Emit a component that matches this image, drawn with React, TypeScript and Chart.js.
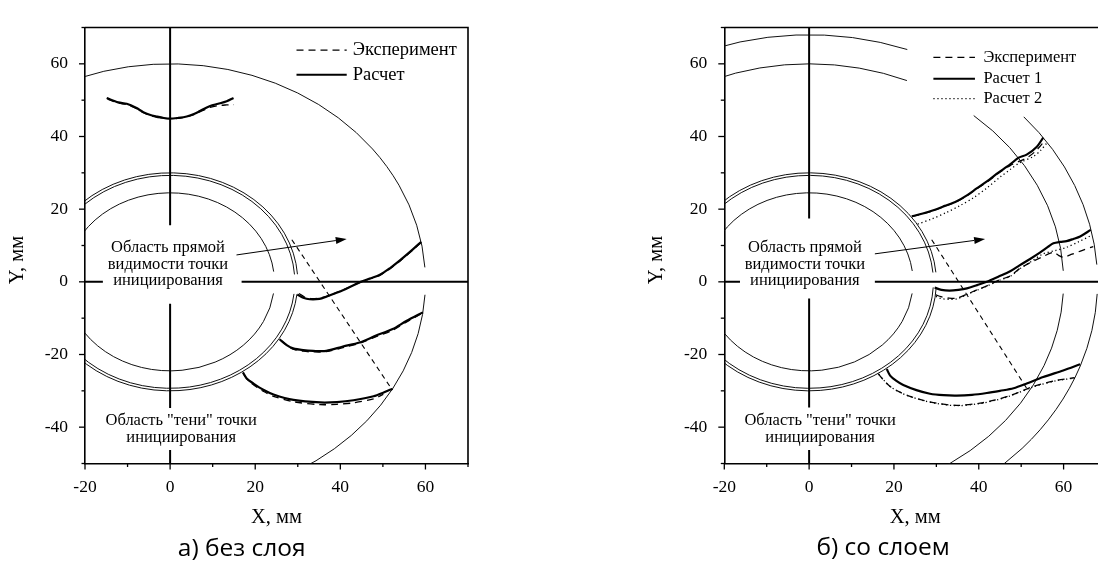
import React, { useEffect, useRef } from "react";
import { Chart, registerables } from "chart.js";

Chart.register(...registerables);

type Pt = { x: number; y: number };
type Kind = "exp" | "calc" | "calc2";

const P = (pairs: number[][]): Pt[] => pairs.map(([x, y]) => ({ x, y }));

// ---------- axes / labels ----------
const X_MIN = -20, X_MAX = 70, Y_MIN = -50, Y_MAX = 70;
const TICK_STEP = 10;
const X_LABELED_TICKS = [-20, 0, 20, 40, 60];
const Y_LABELED_TICKS = [-40, -20, 0, 20, 40, 60];
const AXIS_TITLE_X = "X, мм";
const AXIS_TITLE_Y = "Y, мм";
const LEGEND_LEFT = ["Эксперимент", "Расчет"];
const LEGEND_RIGHT = ["Эксперимент", "Расчет 1", "Расчет 2"];
const NOTE_VISIBLE = ["Область прямой", "видимости точки", "инициирования"];
const NOTE_SHADOW = ["Область \"тени\" точки", "инициирования"];
const CAPTIONS = ["а) без слоя", "б) со слоем"];

// ---------- left panel (без слоя) ----------
const L_RADII = [24.5, 29.3, 30.0, 60];
const L_SPANS: [number, number][][] = [[[6.6, 352.5]], [[4.0, 353.5]], [[4.0, 353.5]], [[3.8, 356.6]]];

const L_CALC_A = P([[-14.9, 50.6], [-12.2, 49.4], [-10.2, 49.0], [-8.0, 47.9], [-6.3, 46.7], [-4.8, 46.0], [-3.1, 45.5], [-1.5, 45.1], [0, 44.9], [1.8, 45.1], [3.9, 45.5], [5.6, 46.2], [7.0, 47.0], [9.4, 48.4], [11.3, 49.0], [13.3, 49.7], [14.9, 50.6]]);
const L_EXP_A = P([[-14.7, 50.3], [-12.2, 49.2], [-10.2, 48.8], [-8.0, 47.7], [-6.3, 46.6], [-4.8, 45.8], [-3.1, 45.3], [-1.5, 45.0], [0, 44.9], [1.8, 45.0], [3.9, 45.4], [5.6, 46.0], [7.0, 46.8], [9.4, 48.0], [11.3, 48.5], [13.3, 48.7], [15.0, 48.8]]);
const L_CALC_B = P([[29.9, -3.5], [31.3, -4.4], [32.8, -4.8], [35.1, -4.7], [36.7, -4.1], [38.7, -3.2], [40.6, -2.3], [42.6, -1.2], [44.5, -0.15], [46.9, 0.9], [49.3, 1.95], [51.7, 3.8], [54.0, 5.9], [57.1, 9.0], [59.0, 11.0]]);
const L_EXP_B = P([[30.3, -3.2], [31.5, -4.1], [33.0, -4.6], [35.1, -4.5], [36.7, -4.0], [38.7, -3.1], [40.6, -2.2], [42.6, -1.2], [44.5, -0.2], [46.9, 0.8], [49.3, 1.8], [51.7, 3.6], [54.0, 5.7], [57.1, 8.8], [59.0, 10.9]]);
const L_CALC_C = P([[25.7, -15.8], [27.4, -17.4], [28.9, -18.3], [31.3, -18.8], [33.6, -19.0], [36.7, -19.0], [40.6, -17.8], [44.5, -16.7], [48.4, -14.8], [52.3, -13.0], [55.5, -10.8], [59.4, -8.4]]);
const L_EXP_C = P([[26.0, -16.1], [27.6, -17.6], [29.1, -18.6], [31.3, -19.1], [33.6, -19.3], [36.7, -19.2], [40.6, -18.1], [44.5, -16.9], [48.4, -15.1], [52.3, -13.3], [55.5, -11.1], [59.3, -8.6]]);
const L_CALC_D = P([[17.1, -24.9], [18.0, -26.6], [19.6, -28.0], [21.9, -29.7], [24.3, -31.0], [29.0, -32.5], [35.3, -33.2], [39.2, -33.1], [43.1, -32.6], [47.8, -31.5], [50.3, -30.4], [52.3, -29.4]]);
const L_EXP_D = P([[17.3, -25.5], [18.3, -27.1], [19.8, -28.5], [22.0, -30.2], [24.3, -31.5], [29.0, -33.0], [35.3, -33.8], [39.2, -33.7], [43.1, -33.3], [47.8, -32.2], [50.1, -31.0]]);
const L_SIGHT = P([[28.6, 11.6], [52.0, -29.4]]);
const L_ARROW = P([[15.6, 7.4], [41.5, 11.8]]);
const L_VLINES = [P([[0, 70], [0, 15.6]]), P([[0, -6.0], [0, -34.7]]), P([[0, -46.3], [0, -50]])];
const L_HLINES = [P([[-20, 0], [-15.8, 0]]), P([[16.8, 0], [70, 0]])];

// ---------- right panel (со слоем) ----------
const R_RADII = [24.5, 29.3, 30.0, 60, 68];
const R_SPANS: [number, number][][] = [[[7.0, 352.5]], [[5.0, 357.0]], [[5.0, 357.0]], [[2.9, 49.7], [67.4, 356.9]], [[4.0, 41.9], [70.1, 357.2]]];

const R_CALC1_A = P([[24.2, 18.0], [26.8, 18.8], [29.3, 19.7], [32.0, 20.9], [34.8, 22.2], [37.2, 23.8], [39.5, 25.7], [42.0, 27.7], [44.2, 29.7], [47.4, 32.3], [49.3, 34.1], [51.3, 35.0], [53.7, 37.2], [55.2, 39.7]]);
const R_EXP_A = P([[24.3, 18.0], [26.8, 18.7], [29.3, 19.6], [32.0, 20.8], [34.8, 22.1], [37.2, 23.7], [39.5, 25.6], [42.0, 27.5], [44.2, 29.5], [47.4, 32.0], [49.6, 33.2], [51.6, 34.3], [53.6, 36.2], [55.6, 38.9]]);
const R_CALC2_A = P([[25.6, 15.9], [28.9, 17.3], [32.4, 19.1], [35.6, 21.0], [38.7, 23.1], [42.0, 25.9], [45.0, 28.8], [47.5, 31.0], [49.7, 32.8], [52.9, 34.5], [54.6, 36.2], [56.1, 38.3]]);
const R_CALC1_B = P([[29.6, -1.6], [31.2, -2.2], [33.1, -2.4], [35.2, -2.2], [37.2, -1.8], [39.6, -0.9], [41.9, 0.0], [44.6, 1.4], [47.4, 2.9], [49.7, 4.6], [52.1, 6.3], [54.5, 8.1], [56.3, 9.6], [57.6, 10.6], [59.2, 11.0], [60.7, 11.2], [62.3, 11.8], [63.9, 12.5], [66.4, 14.3]]);
const R_EXP_B = P([[29.9, -3.6], [31.1, -4.1], [33.0, -4.5], [34.8, -4.5], [37.2, -3.4], [39.6, -2.2], [41.9, -1.1], [45.0, 0.6], [47.4, 1.6], [49.7, 3.7], [52.0, 5.2], [54.5, 6.6], [57.6, 8.1], [58.8, 7.3], [59.9, 6.8], [62.0, 7.6], [64.3, 8.6], [67.0, 9.7]]);
const R_CALC2_B = P([[29.9, -4.0], [31.1, -4.6], [33.0, -4.8], [34.8, -4.7], [37.2, -3.5], [39.6, -2.3], [41.9, -1.2], [45.0, 0.5], [47.4, 1.5], [49.7, 3.6], [52.0, 5.3], [55.2, 7.7], [58.0, 8.6], [60.7, 9.5], [63.5, 11.0], [66.6, 12.8]]);
const R_CALC1_C = P([[18.3, -24.0], [19.1, -25.8], [20.5, -27.2], [22.2, -28.4], [25.3, -29.8], [28.5, -30.8], [31.7, -31.2], [34.8, -31.3], [38.4, -31.1], [41.9, -30.6], [45.0, -30.0], [48.2, -29.3], [51.3, -28.0], [55.2, -26.2], [59.9, -24.4], [63.9, -22.7]]);
const R_EXP_C = P([[16.3, -25.3], [17.6, -27.1], [19.1, -28.8], [21.3, -30.3], [23.8, -31.5], [26.9, -32.6], [30.1, -33.4], [34.8, -34.0], [40.3, -33.4], [43.9, -32.5], [47.4, -31.3], [52.9, -28.8], [58.4, -27.1], [62.6, -26.4]]);
const R_CALC2_C = P([[16.4, -25.4], [17.7, -27.2], [19.2, -28.9], [21.4, -30.4], [23.9, -31.6], [27.0, -32.7], [30.2, -33.5], [34.8, -34.1], [40.3, -33.5], [43.9, -32.6], [47.4, -31.4], [52.9, -28.9], [58.4, -27.2], [62.6, -26.5]]);
const R_SIGHT = P([[28.9, 11.6], [51.3, -29.3]]);
const R_ARROW = P([[15.5, 7.7], [41.5, 11.8]]);
const R_VLINES = [P([[0, 70], [0, 17.4]]), P([[0, -4.6], [0, -34.6]]), P([[0, -46.3], [0, -50]])];
const R_HLINES = [P([[-20, 0], [-16.3, 0]]), P([[15.5, 0], [70, 0]])];

// ---------- styles ----------
const SERIF = '"Liberation Serif", "Times New Roman", serif';
const INK = "#000";
const STYLES: Record<Kind, { dash: number[]; width: number }> = {
  exp: { dash: [7, 5], width: 1.3 },
  calc: { dash: [], width: 2.2 },
  calc2: { dash: [1.2, 2.8], width: 1.3 },
};

interface Series { label: string; kind: Kind; data: Pt[] }
interface Panel {
  radii: number[];
  spans: [number, number][][];
  vlines: Pt[][];
  hlines: Pt[][];
  series: Series[];
  sight: Pt[];
  arrow: Pt[];
  legendLabels: string[];
  legendKinds: Kind[];
  legendPos: { x0: number; x1: number; tx: number; ys: number[] };
  legendFont: number;
  noteVisiblePos: { x: number; ys: number[] };
  noteShadowPos: { x: number; ys: number[] };
  yAxisWidth: number;
  padRight: number;
}

const LEFT_PANEL: Panel = {
  radii: L_RADII,
  spans: L_SPANS,
  vlines: L_VLINES,
  hlines: L_HLINES,
  series: [
    { label: LEGEND_LEFT[0], kind: "exp", data: L_EXP_A },
    { label: LEGEND_LEFT[0], kind: "exp", data: L_EXP_B },
    { label: LEGEND_LEFT[0], kind: "exp", data: L_EXP_C },
    { label: LEGEND_LEFT[0], kind: "exp", data: L_EXP_D },
    { label: LEGEND_LEFT[1], kind: "calc", data: L_CALC_A },
    { label: LEGEND_LEFT[1], kind: "calc", data: L_CALC_B },
    { label: LEGEND_LEFT[1], kind: "calc", data: L_CALC_C },
    { label: LEGEND_LEFT[1], kind: "calc", data: L_CALC_D },
  ],
  sight: L_SIGHT,
  arrow: L_ARROW,
  legendLabels: LEGEND_LEFT,
  legendKinds: ["exp", "calc"],
  legendPos: { x0: 29.7, x1: 41.5, tx: 42.9, ys: [63.8, 57.0] },
  legendFont: 18.5,
  noteVisiblePos: { x: -0.5, ys: [9.45, 4.8, 0.2] },
  noteShadowPos: { x: 2.6, ys: [-38.3, -42.9] },
  yAxisWidth: 85,
  padRight: 81,
};

const RIGHT_PANEL: Panel = {
  radii: R_RADII,
  spans: R_SPANS,
  vlines: R_VLINES,
  hlines: R_HLINES,
  series: [
    { label: LEGEND_RIGHT[2], kind: "calc2", data: R_CALC2_A },
    { label: LEGEND_RIGHT[2], kind: "calc2", data: R_CALC2_B },
    { label: LEGEND_RIGHT[2], kind: "calc2", data: R_CALC2_C },
    { label: LEGEND_RIGHT[0], kind: "exp", data: R_EXP_A },
    { label: LEGEND_RIGHT[0], kind: "exp", data: R_EXP_B },
    { label: LEGEND_RIGHT[0], kind: "exp", data: R_EXP_C },
    { label: LEGEND_RIGHT[1], kind: "calc", data: R_CALC1_A },
    { label: LEGEND_RIGHT[1], kind: "calc", data: R_CALC1_B },
    { label: LEGEND_RIGHT[1], kind: "calc", data: R_CALC1_C },
  ],
  sight: R_SIGHT,
  arrow: R_ARROW,
  legendLabels: LEGEND_RIGHT,
  legendKinds: ["exp", "calc", "calc2"],
  legendPos: { x0: 29.3, x1: 39.1, tx: 41.1, ys: [61.8, 55.9, 50.4] },
  legendFont: 16.5,
  noteVisiblePos: { x: -1.0, ys: [9.45, 4.8, 0.2] },
  noteShadowPos: { x: 2.6, ys: [-38.3, -42.9] },
  yAxisWidth: 85.3,
  padRight: 20,
};

const CANVAS_H = 530;
const X_AXIS_H = 66.5;

function makePlugin(panel: Panel) {
  return {
    id: "drawing",
    beforeDatasetsDraw(chart: any) {
      const { ctx, chartArea: ca, scales } = chart;
      const xs = scales.x, ys = scales.y;
      const cx = xs.getPixelForValue(0), cy = ys.getPixelForValue(0);
      ctx.save();
      ctx.beginPath();
      ctx.rect(ca.left, ca.top, ca.right - ca.left, ca.bottom - ca.top);
      ctx.clip();
      ctx.strokeStyle = "#111";
      ctx.lineWidth = 1;
      panel.radii.forEach((r, i) => {
        const rx = Math.abs(xs.getPixelForValue(r) - cx);
        const ry = Math.abs(ys.getPixelForValue(r) - cy);
        panel.spans[i].forEach(([a, b]) => {
          ctx.beginPath();
          ctx.ellipse(cx, cy, rx, ry, 0, (-a * Math.PI) / 180, (-b * Math.PI) / 180, true);
          ctx.stroke();
        });
      });
      ctx.restore();
    },
    afterDatasetsDraw(chart: any) {
      const { ctx, scales } = chart;
      const xs = scales.x, ys = scales.y;
      const px = (v: number) => xs.getPixelForValue(v);
      const py = (v: number) => ys.getPixelForValue(v);
      ctx.save();
      // arrow
      const [a, b] = panel.arrow;
      const x1 = px(a.x), y1 = py(a.y), x2 = px(b.x), y2 = py(b.y);
      const ang = Math.atan2(y2 - y1, x2 - x1);
      const hl = 11, hw = 3.5;
      ctx.strokeStyle = INK;
      ctx.fillStyle = INK;
      ctx.lineWidth = 1;
      ctx.setLineDash([]);
      ctx.beginPath();
      ctx.moveTo(x1, y1);
      ctx.lineTo(x2 - hl * Math.cos(ang), y2 - hl * Math.sin(ang));
      ctx.stroke();
      ctx.beginPath();
      ctx.moveTo(x2, y2);
      ctx.lineTo(x2 - hl * Math.cos(ang) + hw * Math.sin(ang), y2 - hl * Math.sin(ang) - hw * Math.cos(ang));
      ctx.lineTo(x2 - hl * Math.cos(ang) - hw * Math.sin(ang), y2 - hl * Math.sin(ang) + hw * Math.cos(ang));
      ctx.closePath();
      ctx.fill();
      // notes
      ctx.font = `16.5px ${SERIF}`;
      ctx.textAlign = "center";
      ctx.textBaseline = "middle";
      NOTE_VISIBLE.forEach((t, i) => ctx.fillText(t, px(panel.noteVisiblePos.x), py(panel.noteVisiblePos.ys[i])));
      NOTE_SHADOW.forEach((t, i) => ctx.fillText(t, px(panel.noteShadowPos.x), py(panel.noteShadowPos.ys[i])));
      // legend
      const lp = panel.legendPos;
      ctx.font = `${panel.legendFont}px ${SERIF}`;
      ctx.textAlign = "left";
      panel.legendLabels.forEach((label, i) => {
        const st = STYLES[panel.legendKinds[i]];
        const yy = py(lp.ys[i]);
        ctx.setLineDash(st.dash);
        ctx.lineWidth = st.width;
        ctx.beginPath();
        ctx.moveTo(px(lp.x0), yy);
        ctx.lineTo(px(lp.x1), yy);
        ctx.stroke();
        ctx.setLineDash([]);
        ctx.fillText(label, px(lp.tx), yy);
      });
      ctx.restore();
    },
    afterDraw(chart: any) {
      const { ctx, chartArea: ca, scales } = chart;
      const xs = scales.x, ys = scales.y;
      ctx.save();
      ctx.strokeStyle = INK;
      ctx.lineWidth = 1.3;
      ctx.setLineDash([]);
      xs.ticks.forEach((t: any) => {
        const p = xs.getPixelForValue(t.value);
        const len = X_LABELED_TICKS.includes(t.value) ? 6 : 3.5;
        ctx.beginPath();
        ctx.moveTo(p, ca.bottom);
        ctx.lineTo(p, ca.bottom + len);
        ctx.stroke();
      });
      ys.ticks.forEach((t: any) => {
        const p = ys.getPixelForValue(t.value);
        const len = Y_LABELED_TICKS.includes(t.value) ? 6 : 3.5;
        ctx.beginPath();
        ctx.moveTo(ca.left, p);
        ctx.lineTo(ca.left - len, p);
        ctx.stroke();
      });
      // frame top & right
      ctx.lineWidth = 1.6;
      ctx.beginPath();
      ctx.moveTo(ca.left, ca.top);
      ctx.lineTo(ca.right, ca.top);
      ctx.lineTo(ca.right, ca.bottom);
      ctx.stroke();
      // y title
      ctx.fillStyle = INK;
      ctx.font = `20.5px ${SERIF}`;
      ctx.textAlign = "center";
      ctx.textBaseline = "middle";
      ctx.translate(18, 260);
      ctx.rotate(-Math.PI / 2);
      ctx.fillText(AXIS_TITLE_Y, 0, 0);
      ctx.restore();
    },
  };
}

function buildConfig(panel: Panel): any {
  const base = { showLine: true, pointRadius: 0, pointHoverRadius: 0, fill: false, borderColor: INK };
  const datasets: any[] = [
    ...panel.vlines.map((d) => ({ ...base, label: "axis", data: d, borderWidth: 2 })),
    ...panel.hlines.map((d) => ({ ...base, label: "axis", data: d, borderWidth: 2 })),
    { ...base, label: "sight", data: panel.sight, borderWidth: 1.1, borderDash: [5, 4] },
    ...panel.series.map((s) => ({
      ...base,
      label: s.label,
      data: s.data,
      borderWidth: STYLES[s.kind].width,
      borderDash: STYLES[s.kind].dash,
      tension: 0.3,
    })),
  ];
  return {
    type: "scatter",
    data: { datasets },
    options: {
      animation: false,
      responsive: false,
      devicePixelRatio: 1,
      events: [],
      layout: { padding: { left: 0, top: 9, right: panel.padRight, bottom: 0 }, autoPadding: false },
      plugins: { legend: { display: false }, tooltip: { enabled: false } },
      scales: {
        x: {
          type: "linear",
          min: X_MIN,
          max: X_MAX,
          ticks: {
            stepSize: TICK_STEP,
            autoSkip: false,
            maxRotation: 0,
            padding: 13,
            color: INK,
            font: { family: SERIF, size: 17.5 },
            callback: (v: any) => (X_LABELED_TICKS.includes(Number(v)) ? String(v) : ""),
          },
          grid: { display: false, drawTicks: false },
          border: { display: true, color: INK, width: 1.6 },
          title: { display: true, text: AXIS_TITLE_X, color: INK, font: { family: SERIF, size: 20.5 }, padding: { top: 0, bottom: 0 } },
          afterFit: (s: any) => {
            s.height = X_AXIS_H;
          },
        },
        y: {
          type: "linear",
          min: Y_MIN,
          max: Y_MAX,
          ticks: {
            stepSize: TICK_STEP,
            autoSkip: false,
            padding: 17,
            color: INK,
            font: { family: SERIF, size: 17.5 },
            callback: (v: any) => (Y_LABELED_TICKS.includes(Number(v)) ? String(v) : ""),
          },
          grid: { display: false, drawTicks: false },
          border: { display: true, color: INK, width: 1.6 },
          afterFit: (s: any) => {
            s.width = panel.yAxisWidth;
          },
        },
      },
    },
    plugins: [makePlugin(panel)],
  };
}

function PanelChart({ panel, left, width }: { panel: Panel; left: number; width: number }) {
  const ref = useRef<HTMLCanvasElement | null>(null);
  useEffect(() => {
    if (!ref.current) return;
    const chart = new Chart(ref.current, buildConfig(panel));
    return () => chart.destroy();
  }, [panel]);
  return (
    <canvas
      ref={ref}
      width={width}
      height={CANVAS_H}
      style={{ position: "absolute", left, top: 0, width, height: CANVAS_H, display: "block" }}
    />
  );
}

const captionStyle = (cx: number, cy: number): React.CSSProperties => ({
  position: "absolute",
  left: cx,
  top: cy,
  transform: "translate(-50%, -50%)",
  fontFamily: '"Open Sans", "Noto Sans", sans-serif',
  fontSize: 24.5,
  lineHeight: 1,
  color: "#000",
  whiteSpace: "nowrap",
});

export default function App() {
  return (
    <div
      style={{
        position: "fixed",
        left: 0,
        top: 0,
        width: 1098,
        height: 561,
        overflow: "hidden",
        background: "#fff",
      }}
    >
      <PanelChart panel={LEFT_PANEL} left={0} width={549} />
      <PanelChart panel={RIGHT_PANEL} left={639} width={487} />
      <div style={captionStyle(241.7, 546.7)}>{CAPTIONS[0]}</div>
      <div style={captionStyle(883, 546)}>{CAPTIONS[1]}</div>
    </div>
  );
}
